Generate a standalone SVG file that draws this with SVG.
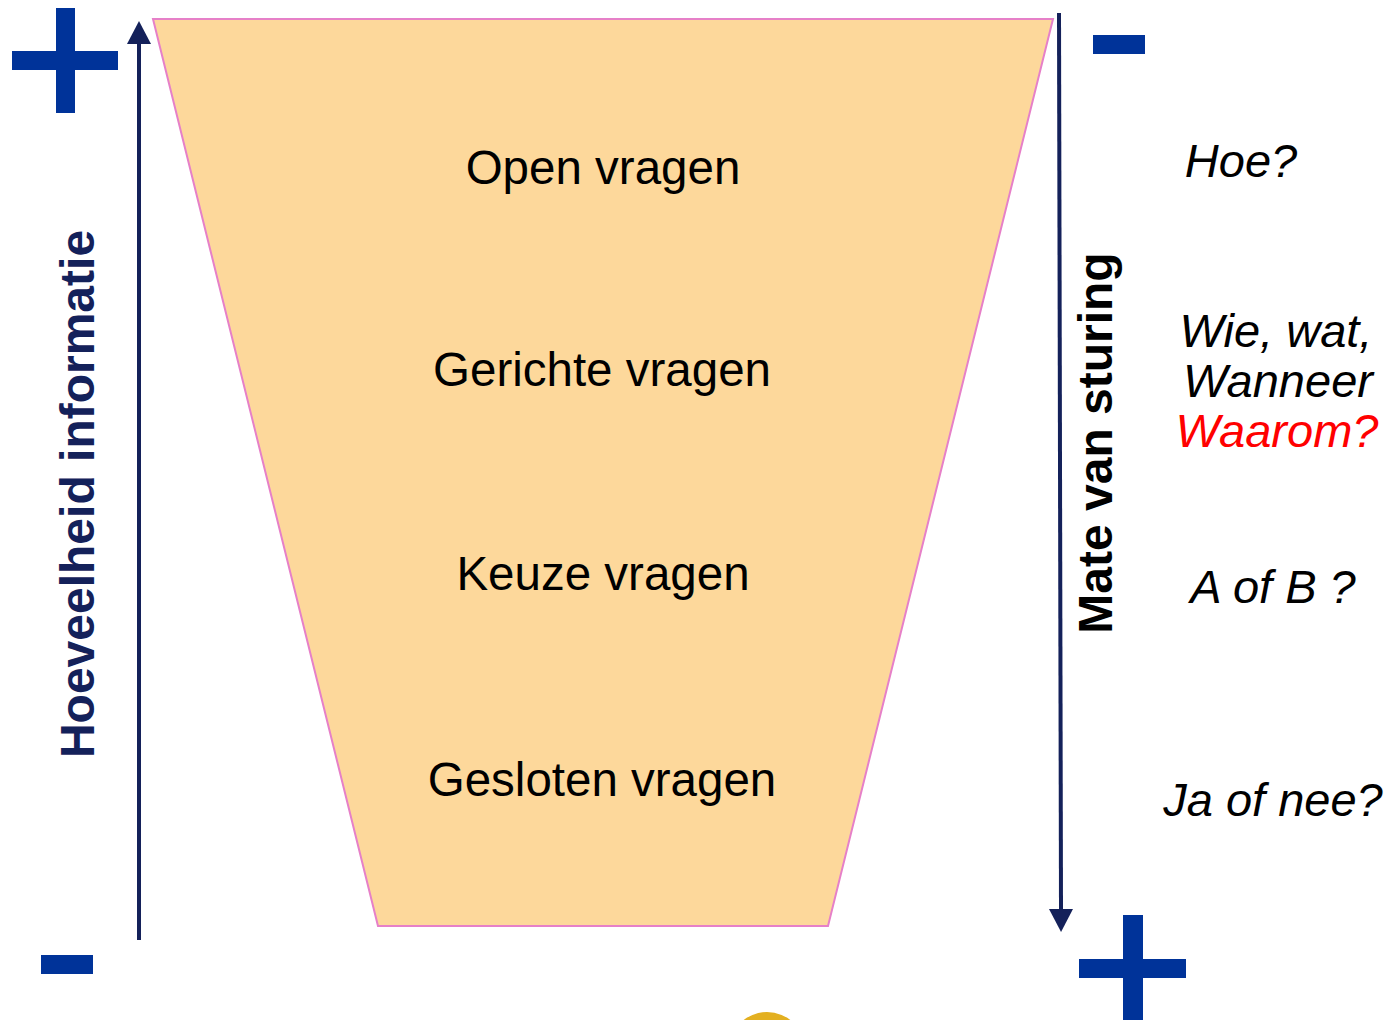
<svg xmlns="http://www.w3.org/2000/svg" width="1389" height="1020" viewBox="0 0 1389 1020">
  <style>
    .sign { fill: #003399; }
    .axis { stroke: #14215A; stroke-width: 4; fill: none; }
    .lbl { font-family: "Liberation Sans", Arial, sans-serif; font-size: 47.5px; fill: #000; text-anchor: middle; }
    .side { font-family: "Liberation Sans", Arial, sans-serif; font-size: 47px; font-style: italic; fill: #000; text-anchor: middle; }
    .side.red { fill: #FF0000; }
    .vert { font-family: "Liberation Sans", Arial, sans-serif; font-size: 48px; font-weight: bold; text-anchor: middle; }
    .navy { fill: #14215A; }
    .black { fill: #000000; }
  </style>
  <defs>
    <marker id="arrow" markerUnits="userSpaceOnUse" markerWidth="24" markerHeight="24" refX="0" refY="12" orient="auto">
      <path d="M0,0 L23,12 L0,24 Z" fill="#14215A"/>
    </marker>
  </defs>
  <rect x="0" y="0" width="1389" height="1020" fill="#FFFFFF"/>

  <g id="funnel">
    <polygon points="153,19 1053,19 828,926 378,926" fill="#FDD89B" stroke="#E680C8" stroke-width="2"/>
    <text class="lbl" x="603" y="184">Open vragen</text>
    <text class="lbl" x="602" y="386">Gerichte vragen</text>
    <text class="lbl" x="603" y="590">Keuze vragen</text>
    <text class="lbl" x="602" y="796">Gesloten vragen</text>
  </g>

  <g id="connectors">
    <line class="axis" x1="139" y1="940" x2="139" y2="44" marker-end="url(#arrow)"/>
    <line class="axis" x1="1059" y1="13" x2="1061" y2="909" marker-end="url(#arrow)"/>
  </g>

  <g id="plus-top-left">
    <rect class="sign" x="56" y="8" width="19" height="105"/>
    <rect class="sign" x="12" y="51" width="106" height="19"/>
  </g>
  <g id="minus-bottom-left">
    <rect class="sign" x="41" y="955" width="52" height="19"/>
  </g>
  <g id="minus-top-right">
    <rect class="sign" x="1093" y="35" width="52" height="19"/>
  </g>
  <g id="plus-bottom-right">
    <rect class="sign" x="1123" y="915" width="20" height="110"/>
    <rect class="sign" x="1079" y="959" width="107" height="19"/>
  </g>

  <g id="label-left">
    <text class="vert navy" transform="translate(94,494) rotate(-90)">Hoeveelheid informatie</text>
  </g>
  <g id="label-right">
    <text class="vert black" transform="translate(1112,443) rotate(-90)">Mate van sturing</text>
  </g>

  <g id="side-hoe">
    <text class="side" x="1241" y="177">Hoe?</text>
  </g>
  <g id="side-wie">
    <text class="side" x="1276" y="347">Wie, wat,</text>
    <text class="side" x="1278" y="397">Wanneer</text>
    <text class="side red" x="1277" y="447">Waarom?</text>
  </g>
  <g id="side-aofb">
    <text class="side" x="1273" y="603">A of B ?</text>
  </g>
  <g id="side-ja">
    <text class="side" x="1273" y="816">Ja of nee?</text>
  </g>

  <g id="yellow-dot">
    <circle cx="767" cy="1050" r="38" fill="#E3B021"/>
  </g>
</svg>
